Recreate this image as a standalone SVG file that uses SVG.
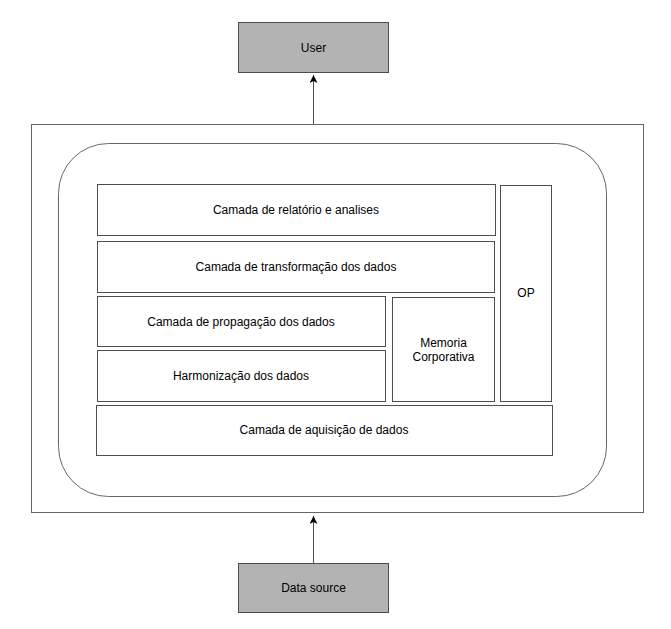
<svg xmlns="http://www.w3.org/2000/svg" width="671" height="629" viewBox="0 0 671 629">
<defs>
<style>
.box{fill:#ffffff;stroke:#4d4d4d;stroke-width:1}
.ext{fill:#b3b3b3;stroke:#4d4d4d;stroke-width:1}
.frame{fill:#ffffff;stroke:#666666;stroke-width:1}
.t{font-family:"Liberation Sans",Arial,sans-serif;font-size:12px;fill:#000000;text-anchor:middle}
.edge{stroke:#4d4d4d;stroke-width:1;fill:none}
</style>
<marker id="arr" markerWidth="10" markerHeight="10" refX="8" refY="4" orient="auto" markerUnits="userSpaceOnUse">
<path d="M0,0 L8,4 L0,8 L2,4 Z" fill="#000000"/>
</marker>
</defs>
<rect width="671" height="629" fill="#ffffff"/>
<g id="container">
<rect class="frame" x="31.5" y="124.5" width="612" height="388"/>
<rect class="frame" x="58.5" y="143.5" width="548" height="353" rx="50" ry="50"/>
</g>
<g id="user">
<rect class="ext" x="238.5" y="22.5" width="150" height="50"/>
<text class="t" x="313.5" y="51.5">User</text>
</g>
<g id="datasource">
<rect class="ext" x="238.5" y="563.5" width="150" height="49"/>
<text class="t" x="313.5" y="592">Data source</text>
</g>
<g id="relatorio">
<rect class="box" x="97.5" y="184.5" width="398" height="51"/>
<text class="t" x="296" y="214">Camada de relatório e analises</text>
</g>
<g id="transformacao">
<rect class="box" x="97.5" y="241.5" width="397" height="51"/>
<text class="t" x="296" y="271">Camada de transformação dos dados</text>
</g>
<g id="propagacao">
<rect class="box" x="97.5" y="296.5" width="288" height="50"/>
<text class="t" x="241" y="326">Camada de propagação dos dados</text>
</g>
<g id="harmonizacao">
<rect class="box" x="97.5" y="350.5" width="288" height="51"/>
<text class="t" x="241" y="380">Harmonização dos dados</text>
</g>
<g id="memoria">
<rect class="box" x="392.5" y="297.5" width="102" height="104"/>
<text class="t" x="443.5" y="347">Memoria</text>
<text class="t" x="443.5" y="361">Corporativa</text>
</g>
<g id="op">
<rect class="box" x="500.5" y="185.5" width="51" height="216"/>
<text class="t" x="526" y="297">OP</text>
</g>
<g id="aquisicao">
<rect class="box" x="96.5" y="405.5" width="456" height="50"/>
<text class="t" x="324" y="434">Camada de aquisição de dados</text>
</g>
<g id="connectors">
<line class="edge" x1="313.5" y1="124" x2="313.5" y2="75" marker-end="url(#arr)"/>
<line class="edge" x1="313.5" y1="563" x2="313.5" y2="516" marker-end="url(#arr)"/>
</g>
</svg>
